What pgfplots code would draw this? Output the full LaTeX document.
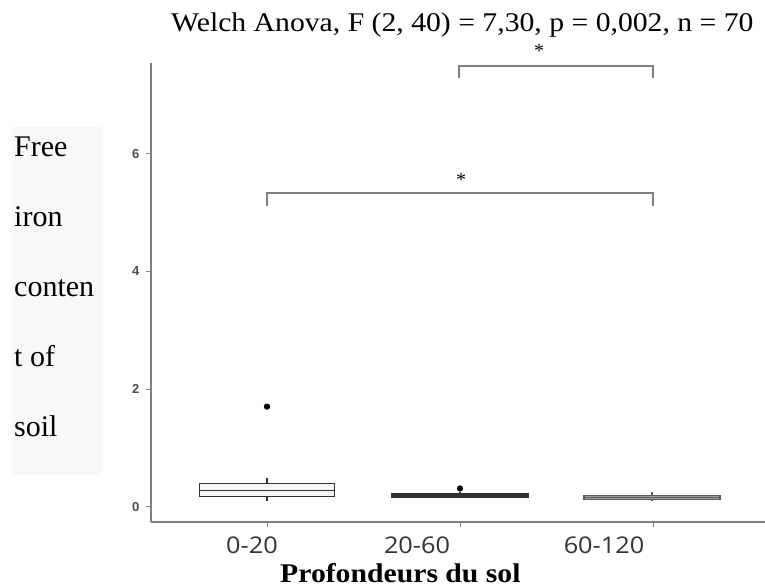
\documentclass[border=0pt]{standalone}
\usepackage{pgfplots}
\pgfplotsset{compat=1.18}
\usepgfplotslibrary{statistics}
\usepackage{graphicx}
\usepackage{fontspec}
\setmainfont{Liberation Serif}
\newfontfamily\tickfont{Open Sans}
\newfontfamily\ytickfont{Liberation Sans}
\definecolor{ylabbg}{HTML}{F7F8FA}
\definecolor{axiscol}{HTML}{808080}
\definecolor{yticktext}{HTML}{4D4D4D}
\definecolor{boxedge}{HTML}{333333}
\definecolor{boxA}{HTML}{F4F4F4}
\definecolor{boxB}{HTML}{5A5A5A}
\definecolor{boxC}{HTML}{A0A0A0}
\definecolor{bracketcol}{HTML}{808080}
\begin{document}
\begin{tikzpicture}[x=1pt,y=1pt]
\path[use as bounding box] (0,0) rectangle (765,588);
% y label panel
\fill[ylabbg] (12,113) rectangle (102,461);
\node[anchor=base west, inner sep=0] at (14,431.3) {\fontsize{30}{30}\selectfont Free};
\node[anchor=base west, inner sep=0] at (14,361.0) {\fontsize{30}{30}\selectfont iron};
\node[anchor=base west, inner sep=0] at (14,291.3) {\fontsize{30}{30}\selectfont conten};
\node[anchor=base west, inner sep=0] at (14,221.3) {\fontsize{30}{30}\selectfont t of};
\node[anchor=base west, inner sep=0] at (14,151.3) {\fontsize{30}{30}\selectfont soil};
% title
\node[anchor=base west, inner sep=0] at (171,556.3) {\scalebox{1.1}[1]{\fontsize{27}{27}\selectfont Welch Anova, F (2, 40) = 7,30, p = 0,002, n = 70}};
% x label
\node[anchor=base west, inner sep=0] at (280,5) {\scalebox{1.1}[1]{\fontsize{27}{27}\selectfont\bfseries Profondeurs du sol}};
\begin{axis}[
  at={(151pt,66pt)}, anchor=south west,
  scale only axis, width=614pt, height=459pt,
  xmin=151, xmax=765, ymin=-0.26, ymax=7.54,
  clip=false,
  axis x line*=bottom, axis y line*=left,
  axis line style={axiscol, line width=1.4pt},
  tick align=outside, major tick length=5pt,
  tick style={axiscol, line width=1pt},
  xtick={267,460,653}, xticklabels={,,},
  extra x ticks={252,417,604},
  extra x tick labels={\scalebox{1.1}[1]{0-20},\scalebox{1.1}[1]{20-60},\scalebox{1.1}[1]{60-120}},
  extra x tick style={major tick length=0pt, tick label style={anchor=base, yshift=-31.3pt, font=\tickfont\fontsize{23}{23}\selectfont, text=black!80}},
  ytick={0,2,4,6},
  /pgf/number format/assume math mode=true,
  yticklabel style={font=\ytickfont\bfseries\fontsize{13}{13}\selectfont, text=yticktext, xshift=-3pt},
  boxplot/draw direction=y,
]
\addplot[boxplot prepared={draw position=267, lower whisker=0.10, lower quartile=0.18, median=0.28, upper quartile=0.40, upper whisker=0.49, box extend=135, whisker extend=0},
  draw=boxedge, fill=boxA, line width=1.2pt, mark=*, mark size=2.5pt, mark options={fill=black, draw=black}]
  coordinates {(0,1.70)};
\addplot[boxplot prepared={draw position=460, lower whisker=0.15, lower quartile=0.165, median=0.20, upper quartile=0.23, upper whisker=0.25, box extend=137, whisker extend=0},
  draw=boxedge, fill=boxB, line width=1.2pt, mark=*, mark size=2.5pt, mark options={fill=black, draw=black}]
  coordinates {(0,0.31)};
\addplot[boxplot prepared={draw position=652, lower whisker=0.10, lower quartile=0.126, median=0.16, upper quartile=0.19, upper whisker=0.245, box extend=136, whisker extend=0},
  draw=boxedge!80, fill=boxC, line width=1.2pt]
  coordinates {};
% significance brackets
\addplot[bracketcol, line width=1.4pt, mark=none] coordinates {(267,5.11) (267,5.33) (653,5.33) (653,5.11)};
\addplot[bracketcol, line width=1.4pt, mark=none] coordinates {(459,7.29) (459,7.49) (653,7.49) (653,7.29)};
\node[anchor=center, inner sep=0, font=\fontsize{20}{20}\selectfont] at (axis cs:461,5.55) {*};
\node[anchor=center, inner sep=0, font=\fontsize{20}{20}\selectfont] at (axis cs:539,7.74) {*};
\end{axis}
\end{tikzpicture}
\end{document}
